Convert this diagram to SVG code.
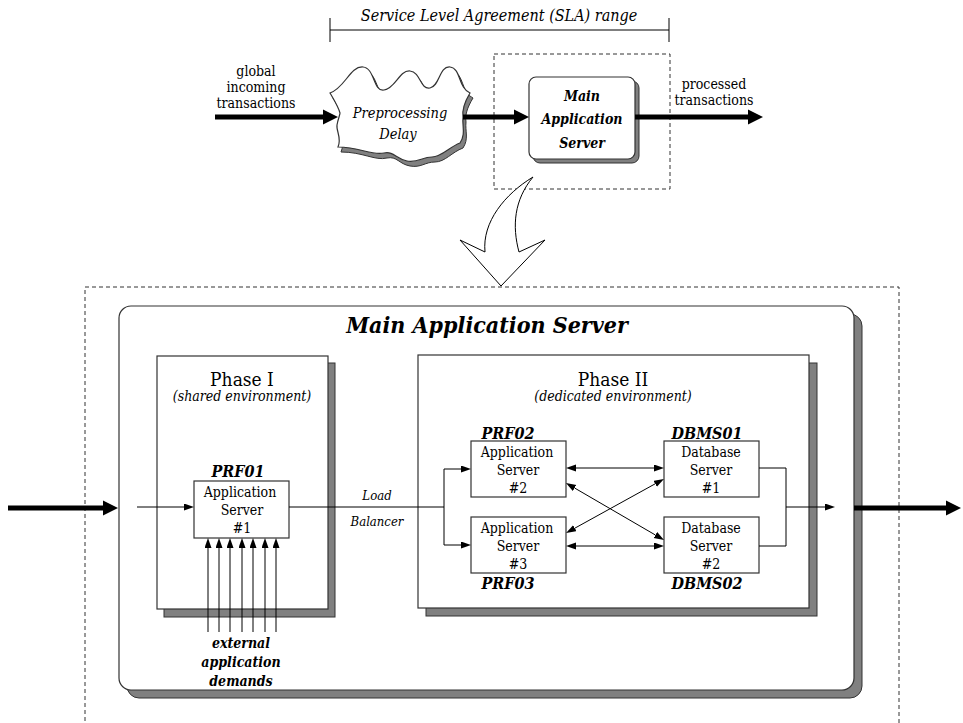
<svg xmlns="http://www.w3.org/2000/svg" width="963" height="723" viewBox="0 0 963 723" font-family="'DejaVu Serif Condensed', 'DejaVu Serif', serif">
<defs>
<style>
text{fill:#000;text-anchor:middle}
.it{font-style:italic}
.bi{font-style:italic;font-weight:bold}
.thick{stroke:#000;stroke-width:5;fill:none}
.thin{stroke:#000;stroke-width:1;fill:none}
.box{fill:#fff;stroke:#333;stroke-width:1.2}
.shadow{fill:#808080;stroke:#333;stroke-width:1}
.dash{fill:none;stroke:#333;stroke-width:1;stroke-dasharray:4 3}
</style>
<marker id="hd" markerUnits="userSpaceOnUse" markerWidth="16" markerHeight="16" refX="0" refY="8" orient="auto">
<path d="M0,0.5 L15,8 L0,15.5 Z" fill="#000"/>
</marker>
<marker id="hs" markerUnits="userSpaceOnUse" markerWidth="11" markerHeight="8" refX="0" refY="3.5" orient="auto-start-reverse">
<path d="M0,0 L10,3.5 L0,7 Z" fill="#000"/>
</marker>
</defs>

<g id="sla">
<text class="it" x="499" y="21" font-size="16">Service Level Agreement (SLA) range</text>
<path class="thin" d="M330,18 V42 M330,30 H669 M669,18 V42"/>
</g>

<g id="incoming-label" font-size="14">
<text x="256" y="76">global</text>
<text x="256" y="92">incoming</text>
<text x="256" y="108">transactions</text>
</g>
<g id="processed-label" font-size="14">
<text x="714" y="89">processed</text>
<text x="714" y="105">transactions</text>
</g>

<g id="preprocessing">
<path class="shadow" transform="translate(3,5)" d="M330,93 C345,88 350,66 363,67 C375,68 373,92 384,90 C396,88 399,70 410,71 C421,72 420,90 430,88 C440,86 439,66 450,67 C461,68 458,88 470,93 C464,103 462,110 463,117 C462,126 466,134 460,143 C449,147 442,157 432,157 C422,157 418,163 407,161 C396,159 394,151 384,153 C372,156 360,147 338,147 C342,138 336,131 337,125 C338,119 340,115 340,113 C338,106 334,100 330,93 Z"/>
<path class="box" d="M330,93 C345,88 350,66 363,67 C375,68 373,92 384,90 C396,88 399,70 410,71 C421,72 420,90 430,88 C440,86 439,66 450,67 C461,68 458,88 470,93 C464,103 462,110 463,117 C462,126 466,134 460,143 C449,147 442,157 432,157 C422,157 418,163 407,161 C396,159 394,151 384,153 C372,156 360,147 338,147 C342,138 336,131 337,125 C338,119 340,115 340,113 C338,106 334,100 330,93 Z"/>
<text class="it" x="400" y="118" font-size="14.5">Preprocessing</text>
<text class="it" x="398" y="139" font-size="14.5">Delay</text>
</g>

<g id="mas-top">
<rect class="dash" x="494" y="54" width="176" height="135"/>
<rect class="shadow" x="533" y="81" width="106" height="82" rx="7"/>
<rect class="box" x="529" y="77" width="106" height="82" rx="7"/>
<text class="bi" x="582" y="101" font-size="14">Main</text>
<text class="bi" x="582" y="124" font-size="14">Application</text>
<text class="bi" x="582" y="148" font-size="14">Server</text>
</g>

<g id="zoom-arrow">
<path d="M533,177 C505,194 482,222 485,252 L460,240 L501,286 L545,240 L519,252 C512,226 514,200 533,177 Z" fill="#fff" stroke="#000" stroke-width="1"/>
</g>

<rect class="dash" x="85" y="287" width="814" height="460"/>

<g id="mas-detail">
<rect class="shadow" x="127" y="314" width="735" height="384" rx="12"/>
<rect class="box" x="119" y="306" width="735" height="384" rx="12"/>
<text class="bi" x="487" y="333" font-size="23">Main Application Server</text>
</g>

<g id="phase1">
<rect class="shadow" x="164" y="363" width="171" height="254"/>
<rect class="box" x="157" y="356" width="171" height="253"/>
<text x="242" y="386" font-size="19">Phase I</text>
<text class="it" x="242" y="401" font-size="14">(shared environment)</text>
</g>

<g id="phase2">
<rect class="shadow" x="426" y="363" width="391" height="253"/>
<rect class="box" x="418" y="355" width="391" height="253"/>
<text x="613" y="386" font-size="19">Phase II</text>
<text class="it" x="613" y="401" font-size="14">(dedicated environment)</text>
</g>

<g id="prf01">
<text class="bi" x="238" y="477" font-size="16">PRF01</text>
<rect class="box" x="194" y="481" width="95" height="57"/>
<text x="240" y="497" font-size="14">Application</text>
<text x="242" y="515" font-size="14">Server</text>
<text x="242" y="533" font-size="14">#1</text>
</g>

<g id="prf02">
<text class="bi" x="508" y="439" font-size="16">PRF02</text>
<rect class="box" x="471" y="441" width="95" height="56"/>
<text x="517" y="457" font-size="14">Application</text>
<text x="518" y="475" font-size="14">Server</text>
<text x="518" y="493" font-size="14">#2</text>
</g>

<g id="prf03">
<rect class="box" x="471" y="517" width="95" height="56"/>
<text x="517" y="533" font-size="14">Application</text>
<text x="518" y="551" font-size="14">Server</text>
<text x="518" y="569" font-size="14">#3</text>
<text class="bi" x="508" y="589" font-size="16">PRF03</text>
</g>

<g id="dbms01">
<text class="bi" x="707" y="439" font-size="16">DBMS01</text>
<rect class="box" x="664" y="441" width="95" height="56"/>
<text x="711" y="457" font-size="14">Database</text>
<text x="711" y="475" font-size="14">Server</text>
<text x="711" y="493" font-size="14">#1</text>
</g>

<g id="dbms02">
<rect class="box" x="664" y="517" width="95" height="56"/>
<text x="711" y="533" font-size="14">Database</text>
<text x="711" y="551" font-size="14">Server</text>
<text x="711" y="569" font-size="14">#2</text>
<text class="bi" x="707" y="589" font-size="16">DBMS02</text>
</g>

<g id="load-balancer">
<text class="it" x="377" y="500" font-size="13">Load</text>
<text class="it" x="377" y="526" font-size="13">Balancer</text>
</g>

<g id="external-label">
<text class="bi" x="241" y="648" font-size="14">external</text>
<text class="bi" x="241" y="667" font-size="14">application</text>
<text class="bi" x="241" y="686" font-size="14">demands</text>
</g>

<g id="connectors">
<line class="thick" x1="215" y1="117" x2="323" y2="117" marker-end="url(#hd)"/>
<line class="thick" x1="463" y1="117" x2="514" y2="117" marker-end="url(#hd)"/>
<line class="thick" x1="635" y1="117" x2="748" y2="117" marker-end="url(#hd)"/>

<line class="thick" x1="8" y1="508" x2="103" y2="508" marker-end="url(#hd)"/>
<line class="thick" x1="854" y1="508" x2="946" y2="508" marker-end="url(#hd)"/>

<line class="thin" x1="137" y1="507" x2="184" y2="507" marker-end="url(#hs)"/>
<path class="thin" d="M289,507 H444 M444,469 V545"/>
<line class="thin" x1="444" y1="469" x2="461" y2="469" marker-end="url(#hs)"/>
<line class="thin" x1="444" y1="545" x2="461" y2="545" marker-end="url(#hs)"/>

<line class="thin" x1="576" y1="468" x2="654" y2="468" marker-start="url(#hs)" marker-end="url(#hs)"/>
<line class="thin" x1="576" y1="546" x2="654" y2="546" marker-start="url(#hs)" marker-end="url(#hs)"/>
<line class="thin" x1="574.6" y1="488" x2="655.4" y2="535" marker-start="url(#hs)" marker-end="url(#hs)"/>
<line class="thin" x1="574.8" y1="528.2" x2="655.2" y2="483.8" marker-start="url(#hs)" marker-end="url(#hs)"/>

<path class="thin" d="M759,468 H786 V546 H759"/>
<line class="thin" x1="786" y1="507" x2="825" y2="507" marker-end="url(#hs)"/>

<line class="thin" x1="208" y1="632" x2="208" y2="548" marker-end="url(#hs)"/>
<line class="thin" x1="219" y1="632" x2="219" y2="548" marker-end="url(#hs)"/>
<line class="thin" x1="230" y1="632" x2="230" y2="548" marker-end="url(#hs)"/>
<line class="thin" x1="242" y1="632" x2="242" y2="548" marker-end="url(#hs)"/>
<line class="thin" x1="253" y1="632" x2="253" y2="548" marker-end="url(#hs)"/>
<line class="thin" x1="265" y1="632" x2="265" y2="548" marker-end="url(#hs)"/>
<line class="thin" x1="276" y1="632" x2="276" y2="548" marker-end="url(#hs)"/>
</g>
</svg>
